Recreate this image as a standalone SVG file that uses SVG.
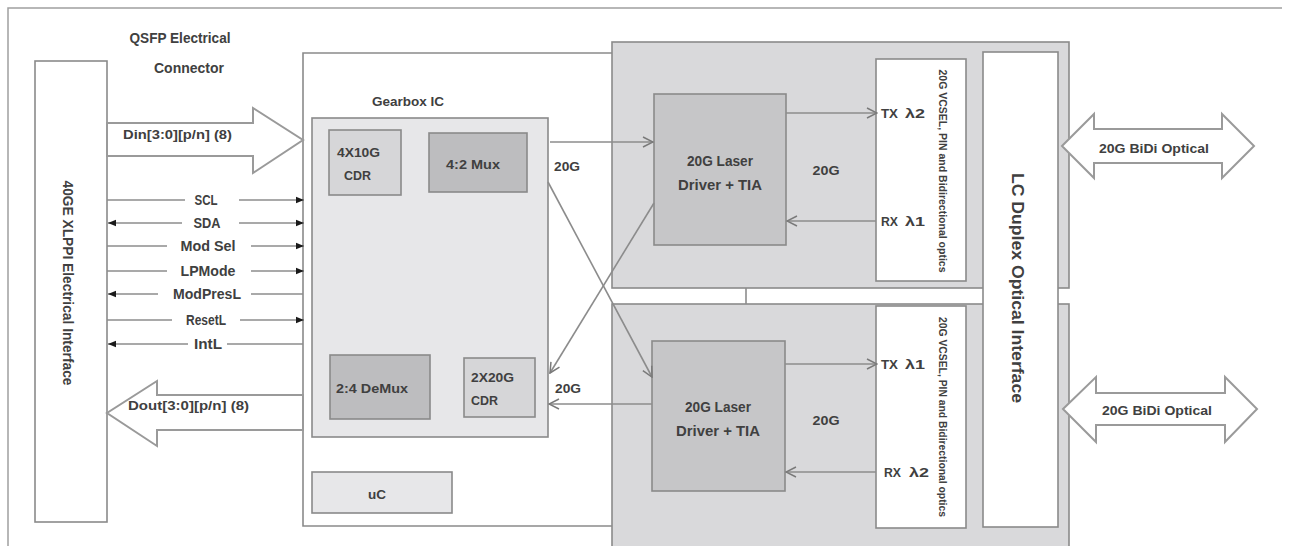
<svg xmlns="http://www.w3.org/2000/svg" width="1290" height="546" viewBox="0 0 1290 546">
<style>
.t{font-family:"Liberation Sans",Arial,sans-serif;font-weight:bold;fill:#404040;dominant-baseline:central}
.box{stroke:#8a8a8a;stroke-width:1.6}
.ln{stroke:#8c8c8c;stroke-width:1.6;fill:none}
.big{fill:#fff;stroke:#9a9a9a;stroke-width:2}
</style>
<defs>
<marker id="fa" viewBox="0 0 10 10" refX="10" refY="5" markerWidth="9" markerHeight="8" markerUnits="userSpaceOnUse" orient="auto-start-reverse"><path d="M0,1 L10,5 L0,9 z" fill="#1a1a1a"/></marker>
<marker id="oa" viewBox="0 0 12 12" refX="11" refY="6" markerWidth="12" markerHeight="12" markerUnits="userSpaceOnUse" orient="auto"><path d="M1,1 L11,6 L1,11" fill="none" stroke="#7a7a7a" stroke-width="1.5"/></marker>
</defs>
<rect width="1290" height="546" fill="#fff"/>
<path d="M8,546 V8 H1282" fill="none" stroke="#a0a0a0" stroke-width="1.5"/>

<g id="xlppi">
<rect x="35" y="61" width="72" height="461" fill="#fff" class="box"/>
<text class="t" font-size="14" transform="translate(68,283) rotate(90)" text-anchor="middle" textLength="205" lengthAdjust="spacingAndGlyphs">40GE XLPPI Electrical Interface</text>
</g>

<g id="qsfp-label">
<text class="t" x="180" y="38" font-size="14" text-anchor="middle" textLength="101" lengthAdjust="spacingAndGlyphs">QSFP Electrical</text>
<text class="t" x="189" y="68" font-size="14" text-anchor="middle" textLength="70" lengthAdjust="spacingAndGlyphs">Connector</text>
</g>

<g id="module">
<path d="M612,53 H303 V526 H612" fill="#fff" class="box"/>
</g>

<g id="optics-top">
<rect x="612" y="42" width="457" height="246" fill="#d9d9db" class="box"/>
</g>
<g id="optics-bottom">
<rect x="612" y="304" width="457" height="250" fill="#d9d9db" class="box"/>
</g>

<g id="lc-duplex">
<rect x="983" y="52" width="75" height="475" fill="#fff" class="box"/>
<text class="t" font-size="17" transform="translate(1017,288) rotate(90)" text-anchor="middle" textLength="230" lengthAdjust="spacingAndGlyphs">LC Duplex Optical Interface</text>
</g>

<g id="gearbox">
<text class="t" x="408" y="101" font-size="13" text-anchor="middle" textLength="72" lengthAdjust="spacingAndGlyphs">Gearbox IC</text>
<rect x="312" y="118" width="236" height="319" fill="#e7e7e9" class="box"/>
</g>
<g id="cdr-4x10g">
<rect x="329" y="130" width="72" height="65" fill="#d6d6d8" class="box"/>
<text class="t" x="337" y="152" font-size="13" textLength="43" lengthAdjust="spacingAndGlyphs">4X10G</text>
<text class="t" x="344" y="175" font-size="13" textLength="27" lengthAdjust="spacingAndGlyphs">CDR</text>
</g>
<g id="mux">
<rect x="429" y="133" width="98" height="59" fill="#bdbdbf" class="box"/>
<text class="t" x="473" y="164" font-size="13" text-anchor="middle" textLength="54" lengthAdjust="spacingAndGlyphs">4:2 Mux</text>
</g>
<g id="demux">
<rect x="330" y="355" width="100" height="64" fill="#bdbdbf" class="box"/>
<text class="t" x="336" y="388" font-size="13" textLength="72" lengthAdjust="spacingAndGlyphs">2:4 DeMux</text>
</g>
<g id="cdr-2x20g">
<rect x="464" y="358" width="71" height="59" fill="#d6d6d8" class="box"/>
<text class="t" x="471" y="377" font-size="13" textLength="43" lengthAdjust="spacingAndGlyphs">2X20G</text>
<text class="t" x="471" y="400" font-size="13" textLength="27" lengthAdjust="spacingAndGlyphs">CDR</text>
</g>
<g id="uc">
<rect x="312" y="472" width="140" height="41" fill="#e7e7e9" class="box"/>
<text class="t" x="377" y="494" font-size="13" text-anchor="middle" textLength="18" lengthAdjust="spacingAndGlyphs">uC</text>
</g>

<g id="ld-top">
<rect x="654" y="94" width="132" height="151" fill="#c6c6c8" class="box"/>
<text class="t" x="720" y="161" font-size="14" text-anchor="middle" textLength="66" lengthAdjust="spacingAndGlyphs">20G Laser</text>
<text class="t" x="720" y="185" font-size="14" text-anchor="middle" textLength="84" lengthAdjust="spacingAndGlyphs">Driver + TIA</text>
</g>
<g id="ld-bottom">
<rect x="652" y="341" width="133" height="150" fill="#c6c6c8" class="box"/>
<text class="t" x="718" y="407" font-size="14" text-anchor="middle" textLength="66" lengthAdjust="spacingAndGlyphs">20G Laser</text>
<text class="t" x="718" y="431" font-size="14" text-anchor="middle" textLength="84" lengthAdjust="spacingAndGlyphs">Driver + TIA</text>
</g>

<g id="bidi-top">
<rect x="876" y="59" width="90" height="222" fill="#fff" class="box"/>
<text class="t" font-size="10" transform="translate(942,171) rotate(90)" text-anchor="middle" textLength="203" lengthAdjust="spacingAndGlyphs">20G VCSEL, PIN and Bidirectional optics</text>
<text class="t" x="881" y="113" font-size="13" textLength="17" lengthAdjust="spacingAndGlyphs">TX</text>
<text class="t" x="905" y="113" font-size="13" textLength="20" lengthAdjust="spacingAndGlyphs">λ2</text>
<text class="t" x="881" y="221" font-size="13" textLength="17" lengthAdjust="spacingAndGlyphs">RX</text>
<text class="t" x="905" y="221" font-size="13" textLength="20" lengthAdjust="spacingAndGlyphs">λ1</text>
</g>
<g id="bidi-bottom">
<rect x="876" y="306" width="90" height="222" fill="#fff" class="box"/>
<text class="t" font-size="10" transform="translate(942,417) rotate(90)" text-anchor="middle" textLength="200" lengthAdjust="spacingAndGlyphs">20G VCSEL, PIN and Bidirectional optics</text>
<text class="t" x="881" y="364" font-size="13" textLength="17" lengthAdjust="spacingAndGlyphs">TX</text>
<text class="t" x="905" y="364" font-size="13" textLength="20" lengthAdjust="spacingAndGlyphs">λ1</text>
<text class="t" x="884" y="472" font-size="13" textLength="17" lengthAdjust="spacingAndGlyphs">RX</text>
<text class="t" x="909" y="472" font-size="13" textLength="20" lengthAdjust="spacingAndGlyphs">λ2</text>
</g>

<g id="connectors">
<polygon class="big" points="107,123 253,123 253,108 303,140 253,173 253,156 107,156"/>
<polygon class="big" points="303,395 157,395 157,381 107,413 157,446 157,430 303,430"/>
<polygon class="big" points="1062,146 1094,114 1094,129 1222,129 1222,114 1254,146 1222,178 1222,163 1094,163 1094,178"/>
<polygon class="big" points="1063,409 1096,377 1096,393 1225,393 1225,377 1257,409 1225,442 1225,425 1096,425 1096,442"/>

<line class="ln" x1="107" y1="200" x2="185" y2="200"/><line class="ln" x1="239" y1="200" x2="304" y2="200" marker-end="url(#fa)"/>
<line class="ln" x1="182" y1="223" x2="108" y2="223" marker-end="url(#fa)"/><line class="ln" x1="239" y1="223" x2="304" y2="223" marker-end="url(#fa)"/>
<line class="ln" x1="107" y1="246" x2="167" y2="246"/><line class="ln" x1="251" y1="246" x2="304" y2="246" marker-end="url(#fa)"/>
<line class="ln" x1="107" y1="271" x2="167" y2="271"/><line class="ln" x1="251" y1="271" x2="304" y2="271" marker-end="url(#fa)"/>
<line class="ln" x1="158" y1="294" x2="108" y2="294" marker-end="url(#fa)"/><line class="ln" x1="251" y1="294" x2="303" y2="294"/>
<line class="ln" x1="107" y1="320" x2="172" y2="320"/><line class="ln" x1="240" y1="320" x2="304" y2="320" marker-end="url(#fa)"/>
<line class="ln" x1="188" y1="344" x2="108" y2="344" marker-end="url(#fa)"/><line class="ln" x1="227" y1="344" x2="303" y2="344"/>

<line class="ln" x1="550" y1="142" x2="653" y2="142" marker-end="url(#oa)"/>
<line class="ln" x1="548" y1="182" x2="652" y2="377" marker-end="url(#oa)"/>
<line class="ln" x1="654" y1="203" x2="550" y2="373" marker-end="url(#oa)"/>
<line class="ln" x1="652" y1="404" x2="549" y2="404" marker-end="url(#oa)"/>
<line class="ln" x1="746" y1="288" x2="746" y2="304"/>

<line class="ln" x1="786" y1="113" x2="877" y2="113" marker-end="url(#oa)"/>
<line class="ln" x1="876" y1="221" x2="787" y2="221" marker-end="url(#oa)"/>
<line class="ln" x1="785" y1="364" x2="877" y2="364" marker-end="url(#oa)"/>
<line class="ln" x1="876" y1="472" x2="786" y2="472" marker-end="url(#oa)"/>
</g>

<g id="labels">
<text class="t" x="123" y="134" font-size="13" textLength="109" lengthAdjust="spacingAndGlyphs">Din[3:0][p/n] (8)</text>
<text class="t" x="128" y="405" font-size="13" textLength="121" lengthAdjust="spacingAndGlyphs">Dout[3:0][p/n] (8)</text>
<text class="t" x="206" y="200" font-size="14" text-anchor="middle" textLength="23" lengthAdjust="spacingAndGlyphs">SCL</text>
<text class="t" x="207" y="223" font-size="14" text-anchor="middle" textLength="27" lengthAdjust="spacingAndGlyphs">SDA</text>
<text class="t" x="208" y="246" font-size="14" text-anchor="middle" textLength="55" lengthAdjust="spacingAndGlyphs">Mod Sel</text>
<text class="t" x="208" y="271" font-size="14" text-anchor="middle" textLength="55" lengthAdjust="spacingAndGlyphs">LPMode</text>
<text class="t" x="207" y="294" font-size="14" text-anchor="middle" textLength="68" lengthAdjust="spacingAndGlyphs">ModPresL</text>
<text class="t" x="206" y="320" font-size="14" text-anchor="middle" textLength="40" lengthAdjust="spacingAndGlyphs">ResetL</text>
<text class="t" x="208" y="344" font-size="14" text-anchor="middle" textLength="28" lengthAdjust="spacingAndGlyphs">IntL</text>
<text class="t" x="567" y="166" font-size="13" text-anchor="middle" textLength="26" lengthAdjust="spacingAndGlyphs">20G</text>
<text class="t" x="568" y="388" font-size="13" text-anchor="middle" textLength="26" lengthAdjust="spacingAndGlyphs">20G</text>
<text class="t" x="826" y="170" font-size="13" text-anchor="middle" textLength="27" lengthAdjust="spacingAndGlyphs">20G</text>
<text class="t" x="826" y="420" font-size="13" text-anchor="middle" textLength="27" lengthAdjust="spacingAndGlyphs">20G</text>
<text class="t" x="1154" y="148" font-size="13" text-anchor="middle" textLength="110" lengthAdjust="spacingAndGlyphs">20G BiDi Optical</text>
<text class="t" x="1157" y="410" font-size="13" text-anchor="middle" textLength="110" lengthAdjust="spacingAndGlyphs">20G BiDi Optical</text>
</g>
</svg>
